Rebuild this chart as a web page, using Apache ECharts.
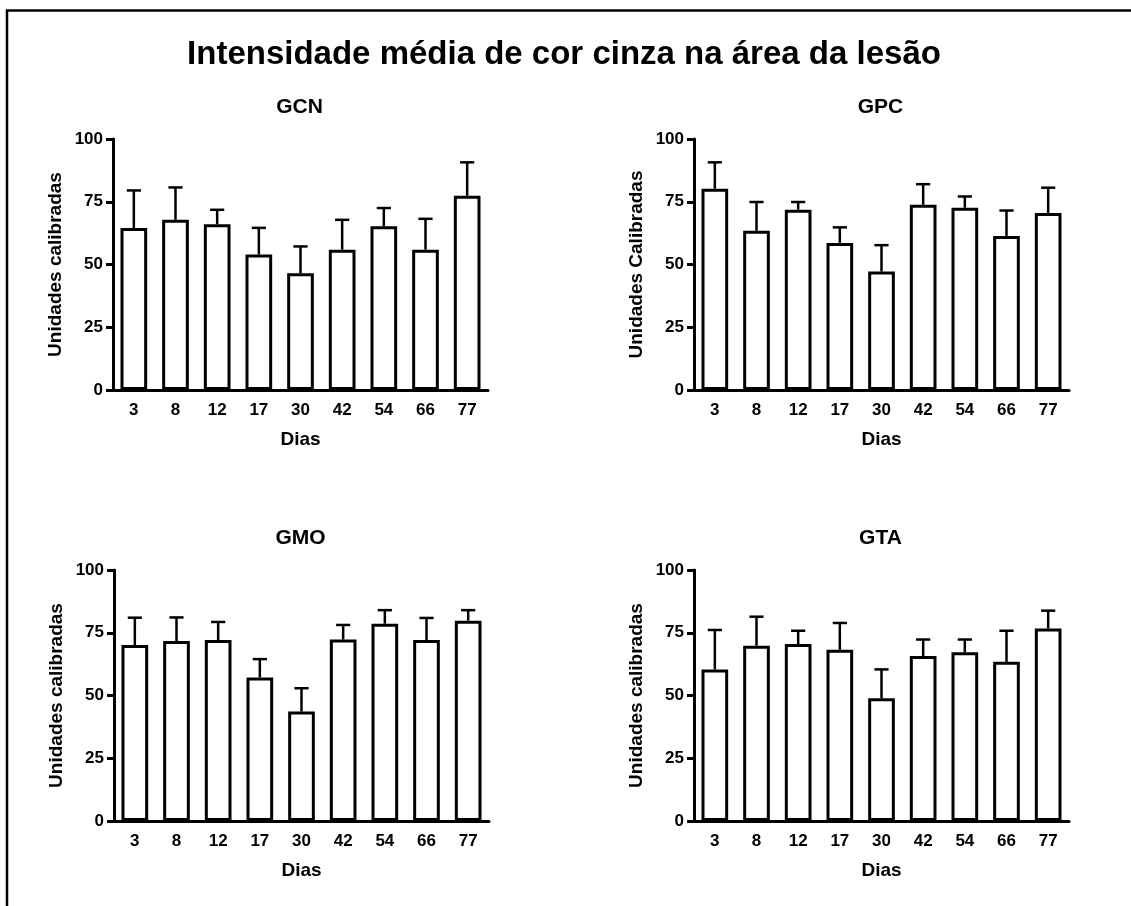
<!DOCTYPE html>
<html>
<head>
<meta charset="utf-8">
<title>Intensidade média de cor cinza na área da lesão</title>
<script src="https://cdn.jsdelivr.net/npm/echarts@6/dist/echarts.min.js"></script>
<style>
  html, body { margin: 0; padding: 0; background: #fff; }
  #chart { width: 1131px; height: 906px; }
</style>
</head>
<body>
<div id="chart"></div>
<script>
// Days after the lesion (shared category axis of all four panels)
const dias = ['3', '8', '12', '17', '30', '42', '54', '66', '77'];
const yTicks = [0, 25, 50, 75, 100];

// Mean grey intensity (calibrated units) and SEM per group
const gcnMedia = [64.5, 67.8, 66.0, 54.0, 46.5, 55.9, 65.2, 55.9, 77.4];
const gcnEpm   = [15.0, 12.9, 5.8, 10.6, 10.7, 11.9, 7.3, 12.3, 13.3];

const gpcMedia = [80.2, 63.4, 71.8, 58.6, 47.2, 73.8, 72.6, 61.4, 70.5];
const gpcEpm   = [10.5, 11.5, 3.1, 6.2, 10.5, 8.2, 4.5, 10.1, 10.1];

const gmoMedia = [70.1, 71.7, 72.1, 57.2, 43.6, 72.3, 78.6, 72.1, 79.8];
const gmoEpm   = [10.9, 9.4, 7.2, 7.3, 9.3, 5.8, 5.4, 8.8, 4.2];

const gtaMedia = [60.4, 69.8, 70.5, 68.2, 48.9, 65.7, 67.2, 63.4, 76.7];
const gtaEpm   = [15.7, 11.6, 5.3, 10.7, 11.5, 6.6, 5.1, 12.4, 7.1];

const FONT = '"Liberation Sans", Arial, sans-serif';

const paineis = [
  { nome: 'GCN', eixoY: 'Unidades calibradas', media: gcnMedia, epm: gcnEpm, left: 113, top: 139 },
  { nome: 'GPC', eixoY: 'Unidades Calibradas', media: gpcMedia, epm: gpcEpm, left: 694, top: 139 },
  { nome: 'GMO', eixoY: 'Unidades calibradas', media: gmoMedia, epm: gmoEpm, left: 114, top: 570 },
  { nome: 'GTA', eixoY: 'Unidades calibradas', media: gtaMedia, epm: gtaEpm, left: 694, top: 570 }
];
const GRID_W = 375, GRID_H = 251;

// Upward error bar with a short cap, positioned through the axis scales
function barraErro(params, api) {
  const idx = api.value(0);
  const base = api.coord([idx, api.value(1)]);
  const topo = api.coord([idx, api.value(2)]);
  const meia = api.size([1, 0])[0] * 0.17;
  const estilo = { stroke: '#000', lineWidth: 2.5 };
  return {
    type: 'group',
    children: [
      { type: 'line', shape: { x1: base[0], y1: base[1], x2: topo[0], y2: topo[1] }, style: estilo },
      { type: 'line', shape: { x1: topo[0] - meia, y1: topo[1], x2: topo[0] + meia, y2: topo[1] }, style: estilo }
    ]
  };
}

const titles = [{
  text: 'Intensidade média de cor cinza na área da lesão',
  left: 559, top: 33, textAlign: 'center',
  textStyle: { fontFamily: FONT, fontSize: 33, fontWeight: 'bold', color: '#000' }
}];
const grids = [], xAxes = [], yAxes = [], series = [];

paineis.forEach((p, k) => {
  titles.push({
    text: p.nome,
    left: p.left + GRID_W / 2 - 6, top: p.top - 47, textAlign: 'center',
    textStyle: { fontFamily: FONT, fontSize: 21, fontWeight: 'bold', color: '#000' }
  });
  grids.push({ left: p.left, top: p.top, width: GRID_W, height: GRID_H });
  xAxes.push({
    type: 'category', gridIndex: k, data: dias,
    name: 'Dias', nameLocation: 'middle', nameGap: 40,
    nameTextStyle: { fontFamily: FONT, fontSize: 19, fontWeight: 'bold', color: '#000' },
    axisLine: { lineStyle: { color: '#000', width: 3 } },
    axisTick: { alignWithLabel: true, length: 7, lineStyle: { color: '#000', width: 3 } },
    axisLabel: { fontFamily: FONT, fontSize: 17, fontWeight: 'bold', color: '#000', margin: 12 },
    splitLine: { show: false }
  });
  yAxes.push({
    type: 'value', gridIndex: k, min: yTicks[0], max: yTicks[yTicks.length - 1], interval: 25,
    name: p.eixoY, nameLocation: 'middle', nameGap: 48, nameRotate: 90,
    nameTextStyle: { fontFamily: FONT, fontSize: 19, fontWeight: 'bold', color: '#000' },
    axisLine: { show: true, lineStyle: { color: '#000', width: 3 } },
    axisTick: { show: true, length: 7, lineStyle: { color: '#000', width: 3 } },
    axisLabel: { fontFamily: FONT, fontSize: 17, fontWeight: 'bold', color: '#000', margin: 10 },
    splitLine: { show: false }
  });
  series.push({
    type: 'bar', xAxisIndex: k, yAxisIndex: k,
    data: p.media, barWidth: '64%',
    itemStyle: { color: '#fff', borderColor: '#000', borderWidth: 3 },
    emphasis: { disabled: true }, silent: true, z: 2
  });
  series.push({
    type: 'custom', xAxisIndex: k, yAxisIndex: k,
    renderItem: barraErro,
    encode: { x: 0, y: [1, 2] },
    data: p.media.map((m, i) => [i, m, +(m + p.epm[i]).toFixed(1)]),
    silent: true, z: 3
  });
});

const chart = echarts.init(document.getElementById('chart'), null, { renderer: 'canvas' });
chart.setOption({
  backgroundColor: '#fff',
  animation: false,
  title: titles,
  grid: grids,
  xAxis: xAxes,
  yAxis: yAxes,
  series: series,
  graphic: [{
    type: 'rect', silent: true, z: 100,
    shape: { x: 7, y: 10.5, width: 1300, height: 1100 },
    style: { fill: 'none', stroke: '#000', lineWidth: 2.5 }
  }]
});
</script>
</body>
</html>
